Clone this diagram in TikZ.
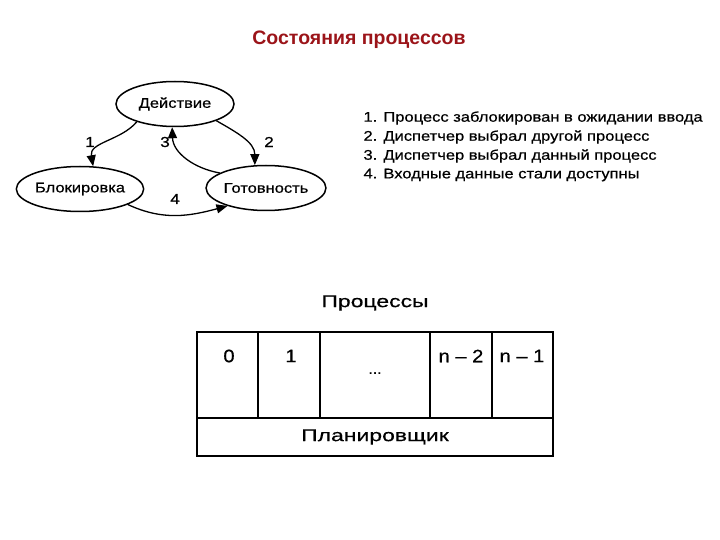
\documentclass[tikz,border=0pt]{standalone}
\usepackage{fontspec}
\setmainfont{Liberation Sans}
\newfontfamily\wideA[FakeStretch=1.18,FakeBold=0.6]{Liberation Sans}
\newfontfamily\wideB[FakeStretch=1.35,FakeBold=0.6]{Liberation Sans}
\newfontfamily\wideC[FakeStretch=1.12,FakeBold=0.6]{Liberation Sans}
\usetikzlibrary{shapes.geometric,arrows.meta}
\definecolor{titlered}{RGB}{155,20,25}
\begin{document}
\begin{tikzpicture}[x=1pt,y=1pt,
  state/.style={ellipse,draw,line width=1.5pt,minimum width=118pt,minimum height=45pt,inner sep=0pt,font=\wideA\fontsize{14}{16}\selectfont},
  trans/.style={line width=1.3pt,-{Triangle[length=11pt,width=9pt]}},
  num/.style={font=\wideA\fontsize{14.5}{16}\selectfont},
  listtext/.style={anchor=west,font=\wideA\fontsize{14}{16}\selectfont},
  cell/.style={draw,line width=1.8pt},
  celltext/.style={font=\wideB\fontsize{17}{19}\selectfont},
  digit/.style={font=\wideC\fontsize{18}{20}\selectfont}]
\useasboundingbox (0,0) rectangle (720,-540);
\node[font=\bfseries\fontsize{19.5}{22}\selectfont,text=titlered] (title) at (359,-40) {Состояния процессов};
% states
\node[state] (act) at (175,-104) {Действие};
\node[state] (blk) at (80,-189) {Блокировка};
\node[state] (rdy) at (266,-188) {Готовность};
\draw[trans] (act.205) to[out=230,in=100] (blk.60);
\draw[trans] (act.338) to[out=-30,in=90] (rdy.116);
\draw[trans] (rdy.162) to[out=170,in=-88] (act.263);
\draw[trans] (blk.342) to[out=-25,in=195] (rdy.205);
\node[num] (n1) at (90,-142) {1};
\node[num] (n2) at (269,-142) {2};
\node[num] (n3) at (165,-142) {3};
\node[num] (n4) at (175,-199) {4};
% list
\node[listtext] (l1) at (360,-118) {1. Процесс заблокирован в ожидании ввода};
\node[listtext] (l2) at (360,-137) {2. Диспетчер выбрал другой процесс};
\node[listtext] (l3) at (360,-156) {3. Диспетчер выбрал данный процесс};
\node[listtext] (l4) at (360,-175) {4. Входные данные стали доступны};
% process table
\node[celltext] (proc) at (375,-303) {Процессы};
\draw[cell] (197,-332) rectangle (553,-456);
\draw[cell] (197,-418) -- (553,-418);
\draw[cell] (258,-332) -- (258,-418);
\draw[cell] (320,-332) -- (320,-418);
\draw[cell] (430,-332) -- (430,-418);
\draw[cell] (492,-332) -- (492,-418);
\node[digit] (c0) at (229,-356) {0};
\node[digit] (c1) at (291,-356) {1};
\node[font=\wideC\fontsize{14}{16}\selectfont] (cd) at (375,-373) {...};
\node[digit] (cn2) at (461,-356) {n – 2};
\node[digit] (cn1) at (522,-356) {n – 1};
\node[celltext] (sched) at (375,-437) {Планировщик};
\end{tikzpicture}
\end{document}
